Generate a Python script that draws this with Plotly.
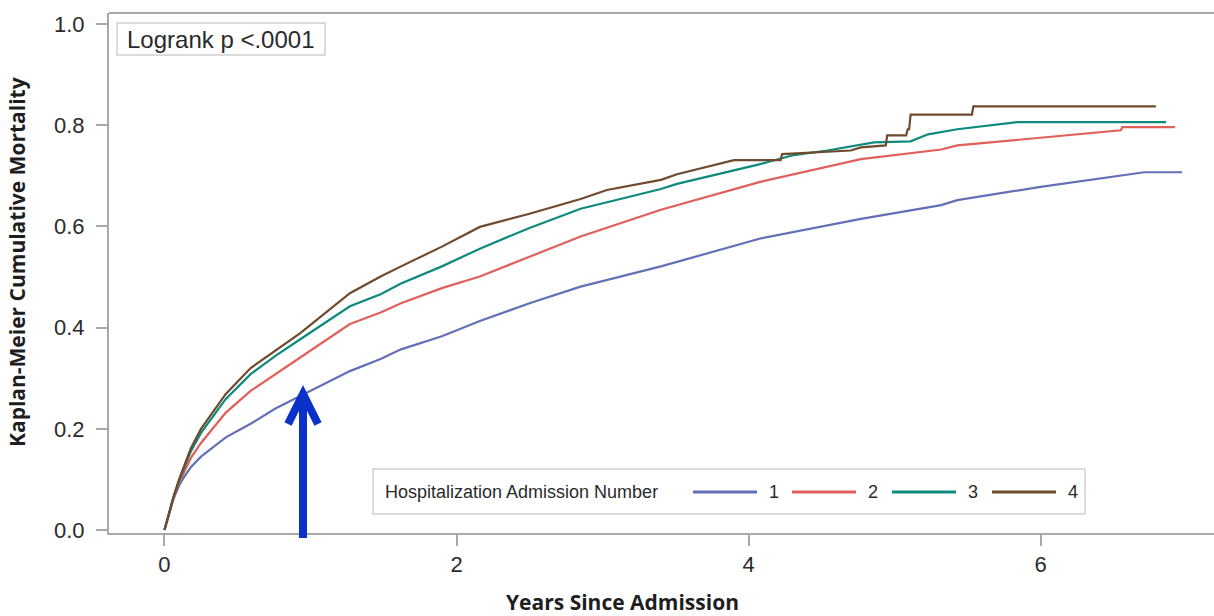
import plotly.graph_objects as go

# ---------------- data ----------------
series_names = ["1", "2", "3", "4"]
legend_title = "Hospitalization Admission Number"
colors = ["#6270b5", "#e15f5a", "#0e8a7d", "#6f4a2c"]

t1 = [0, 0.03, 0.06, 0.10, 0.13, 0.18, 0.25, 0.42, 0.59, 0.76, 0.945, 1.27, 1.48, 1.62, 1.90, 2.16, 2.50, 2.85, 3.40, 3.51, 4.08, 4.77, 5.32, 5.43, 6.00, 6.71, 6.97]
m1 = [0, 0.032, 0.060, 0.088, 0.103, 0.124, 0.145, 0.183, 0.210, 0.240, 0.267, 0.314, 0.338, 0.357, 0.383, 0.413, 0.448, 0.481, 0.521, 0.530, 0.576, 0.615, 0.642, 0.652, 0.678, 0.707, 0.707]

t2 = [0, 0.03, 0.06, 0.10, 0.13, 0.18, 0.25, 0.42, 0.59, 0.76, 0.93, 1.27, 1.48, 1.62, 1.90, 2.16, 2.50, 2.85, 3.40, 3.51, 4.08, 4.77, 5.32, 5.43, 6.00, 6.55, 6.56, 6.92]
m2 = [0, 0.032, 0.061, 0.094, 0.113, 0.142, 0.172, 0.232, 0.275, 0.308, 0.340, 0.407, 0.430, 0.448, 0.478, 0.501, 0.540, 0.580, 0.633, 0.642, 0.688, 0.733, 0.752, 0.760, 0.776, 0.790, 0.796, 0.796]

t3 = [0, 0.03, 0.06, 0.10, 0.13, 0.18, 0.25, 0.42, 0.59, 0.76, 0.93, 1.27, 1.48, 1.62, 1.90, 2.16, 2.50, 2.85, 3.40, 3.51, 4.08, 4.31, 4.54, 4.86, 5.11, 5.23, 5.43, 5.84, 6.86]
m3 = [0, 0.033, 0.063, 0.098, 0.120, 0.155, 0.192, 0.259, 0.308, 0.344, 0.377, 0.442, 0.466, 0.487, 0.521, 0.556, 0.597, 0.635, 0.674, 0.684, 0.723, 0.741, 0.750, 0.766, 0.768, 0.782, 0.792, 0.806, 0.806]

t4 = [0, 0.03, 0.06, 0.10, 0.13, 0.18, 0.25, 0.42, 0.59, 0.76, 0.93, 1.27, 1.48, 1.62, 1.90, 2.16, 2.50, 2.85, 3.03, 3.40, 3.51, 3.90, 4.22, 4.23, 4.70, 4.77, 4.94, 4.95, 5.08, 5.09, 5.10, 5.11, 5.53, 5.54, 6.79]
m4 = [0, 0.033, 0.064, 0.100, 0.124, 0.161, 0.200, 0.269, 0.320, 0.354, 0.389, 0.468, 0.501, 0.521, 0.560, 0.599, 0.625, 0.654, 0.672, 0.692, 0.703, 0.731, 0.731, 0.743, 0.750, 0.756, 0.760, 0.780, 0.780, 0.792, 0.792, 0.821, 0.821, 0.837, 0.837]

times = [t1, t2, t3, t4]
mort = [m1, m2, m3, m4]

x_ticks = [0, 2, 4, 6]
y_ticks = [0.0, 0.2, 0.4, 0.6, 0.8, 1.0]
y_ticktext = ["0.0", "0.2", "0.4", "0.6", "0.8", "1.0"]
logrank_text = "Logrank p <.0001"
x_title = "Years Since Admission"
y_title = "Kaplan-Meier Cumulative Mortality"

# ---------------- layout helpers ----------------
W, H = 1214, 616
L, R, T, B = 109, 0, 13, 83
PW = W - L - R
PH = H - T - B


def px(p):
    return (p - L) / PW


def py(p):
    return (H - B - p) / PH


fig = go.Figure()
for name, tt, mm, c in zip(series_names, times, mort, colors):
    fig.add_trace(go.Scatter(x=tt, y=mm, mode="lines", name=name,
                             line=dict(color=c, width=2.2), showlegend=False))

tick_font = dict(family="Liberation Sans, Arial, sans-serif", size=22, color="#2a2a2a")
axis_grey = "#a8a8a8"

fig.update_xaxes(range=[-0.380, 7.188], tickvals=x_ticks, ticks="outside", ticklen=11,
                 tickwidth=2, tickcolor=axis_grey, showline=True, linecolor=axis_grey,
                 linewidth=2, showgrid=False, zeroline=False, tickfont=tick_font,
                 ticklabelstandoff=0)
fig.update_yaxes(range=[-0.0059, 1.0217], tickvals=y_ticks, ticktext=y_ticktext,
                 ticks="outside", ticklen=11, tickwidth=2, tickcolor=axis_grey,
                 showline=True, linecolor=axis_grey, linewidth=2, showgrid=False,
                 zeroline=False, tickfont=tick_font, ticklabelstandoff=7)

shapes = []
annotations = []

# top frame line
shapes.append(dict(type="line", xref="paper", yref="paper", x0=0, x1=1, y0=1, y1=1,
                   line=dict(color=axis_grey, width=2)))

# Logrank box
shapes.append(dict(type="rect", xref="paper", yref="paper", x0=px(117), x1=px(325),
                   y0=py(55), y1=py(23), line=dict(color="#cfcfcf", width=1.5)))
annotations.append(dict(xref="paper", yref="paper", x=px(125), y=py(39), xanchor="left",
                        yanchor="middle", text=logrank_text, showarrow=False,
                        font=dict(family="Liberation Sans, Arial, sans-serif", size=24, color="#2a2a2a")))

# Legend box
leg_font = dict(family="Liberation Sans, Arial, sans-serif", size=18, color="#2a2a2a")
shapes.append(dict(type="rect", xref="paper", yref="paper", x0=px(373), x1=px(1085),
                   y0=py(514), y1=py(469), line=dict(color="#cfcfcf", width=1.5)))
annotations.append(dict(xref="paper", yref="paper", x=px(383), y=py(492), xanchor="left",
                        yanchor="middle", text=legend_title, showarrow=False, font=leg_font))
line_starts = [693, 792, 892, 992]
for i, (name, c) in enumerate(zip(series_names, colors)):
    x0 = line_starts[i]
    shapes.append(dict(type="line", xref="paper", yref="paper", x0=px(x0), x1=px(x0 + 64),
                       y0=py(492), y1=py(492), line=dict(color=c, width=3)))
    annotations.append(dict(xref="paper", yref="paper", x=px(x0 + 74), y=py(492),
                            xanchor="left", yanchor="middle", text=name, showarrow=False,
                            font=leg_font))

# Axis titles
title_font = dict(family="Open Sans, Lato, sans-serif", size=21, color="#1e1e1e")
annotations.append(dict(xref="paper", yref="paper", x=px(622), y=py(602), xanchor="center",
                        yanchor="middle", text="<b>" + x_title + "</b>", showarrow=False,
                        font=title_font))
annotations.append(dict(xref="paper", yref="paper", x=px(17), y=py(262), xanchor="center",
                        yanchor="middle", text="<b>" + y_title + "</b>", showarrow=False,
                        textangle=-90, font=title_font))

# Blue arrow overlay
ax_ = px(303)
path = (f"M {ax_},{py(538)} L {ax_},{py(396)} "
        f"M {px(288)},{py(424)} L {ax_},{py(394)} L {px(318)},{py(424)}")
shapes.append(dict(type="path", xref="paper", yref="paper", path=path,
                   line=dict(color="#0a32c8", width=8), layer="above"))

fig.update_layout(width=W, height=H, margin=dict(l=L, r=R, t=T, b=B),
                  paper_bgcolor="white", plot_bgcolor="white",
                  shapes=shapes, annotations=annotations, showlegend=False)

fig.write_html("out.html")
